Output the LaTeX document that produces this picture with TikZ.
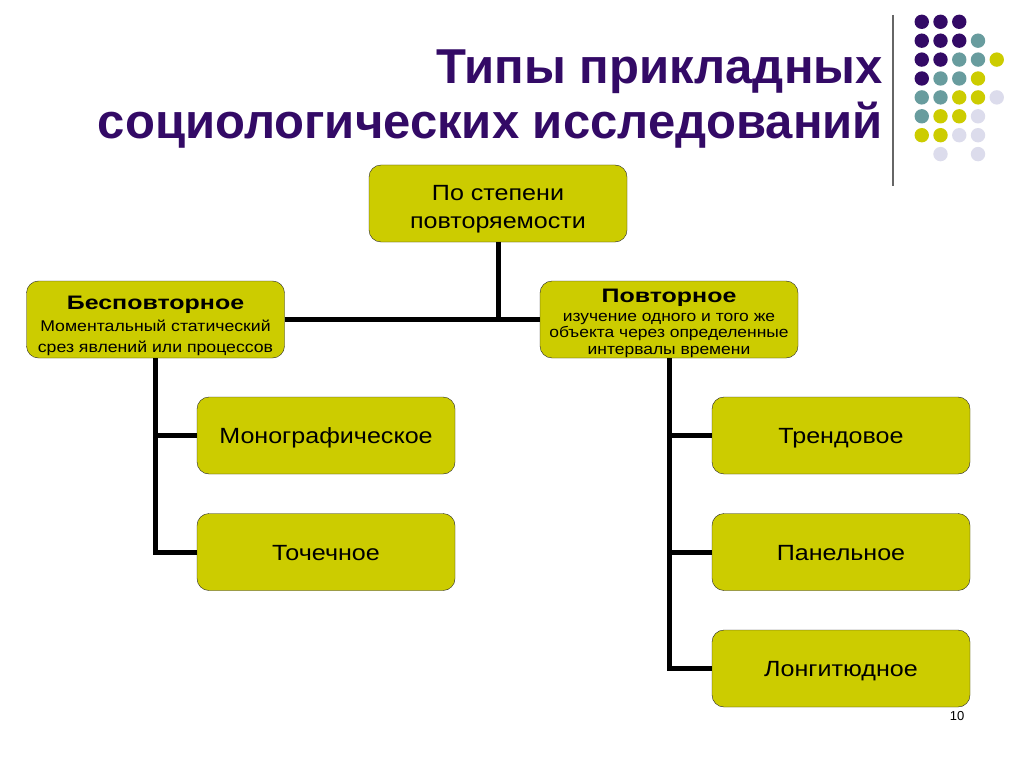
\documentclass[tikz,border=0pt]{standalone}
\usepackage{fontspec}
\setmainfont{Liberation Sans}
\newfontfamily\boxfont{Liberation Sans}[FakeStretch=1.14]
\newfontfamily\boxbold{Liberation Sans}[FakeStretch=1.28]
\definecolor{dpurple}{HTML}{330A66}
\definecolor{dteal}{HTML}{689C9E}
\definecolor{dolive}{HTML}{CCCC00}
\definecolor{dlav}{HTML}{DCDCEC}
\tikzset{
  typebox/.style={draw=black!85,fill=dolive,rounded corners=12pt,minimum width=258pt,minimum height=77pt,inner sep=2pt,align=center,font=\boxfont\fontsize{22}{28}\selectfont},
  oneline/.style={typebox,text height=16.5pt,text depth=0pt},
  link/.style={line width=5pt}
}
\newcommand{\headword}[1]{{\boxbold\bfseries\fontsize{19.5}{22}\selectfont #1}}
\begin{document}
\begin{tikzpicture}[x=1pt,y=-1pt]
  \useasboundingbox (0,0) rectangle (1024,767);
  \fill[white] (0,0) rectangle (1024,767);
  % title
  \node[anchor=north east,align=right,text=dpurple,font=\bfseries\fontsize{49}{55}\selectfont,inner sep=0pt] (title) at (883,50) {Типы прикладных\\социологических исследований};
  \draw[black!60,line width=1.5pt] (893,15) -- (893,186);
  % dots
  \foreach \c/\r/\col in {1/1/dpurple,2/1/dpurple,3/1/dpurple,
      1/2/dpurple,2/2/dpurple,3/2/dpurple,4/2/dteal,
      1/3/dpurple,2/3/dpurple,3/3/dteal,4/3/dteal,5/3/dolive,
      1/4/dpurple,2/4/dteal,3/4/dteal,4/4/dolive,
      1/5/dteal,2/5/dteal,3/5/dolive,4/5/dolive,5/5/dlav,
      1/6/dteal,2/6/dolive,3/6/dolive,4/6/dlav,
      1/7/dolive,2/7/dolive,3/7/dlav,4/7/dlav,
      2/8/dlav,4/8/dlav}
    \fill[\col] (903+18.75*\c,2.9+18.9*\r) circle (7.2);
  % boxes
  \node[typebox] (root) at (498,203.5) {\rule{0pt}{26pt}По степени\\повторяемости};
  \node[typebox,font=\boxfont\fontsize{15.5}{20.3}\selectfont] (single) at (155.5,319.5) {\rule{0pt}{26pt}\headword{Бесповторное}\\[2pt]Моментальный статический\\срез явлений или процессов};
  \node[typebox,inner sep=0pt,font=\boxfont\fontsize{15.3}{16.7}\selectfont] (repeat) at (669,319.5) {\rule{0pt}{21pt}\headword{Повторное}\\[2pt]изучение одного и того же\\объекта через определенные\\интервалы времени};
  \node[oneline] (mono) at (326,435.5) {Монографическое};
  \node[oneline] (point) at (326,552) {Точечное};
  \node[oneline] (trend) at (841,435.5) {Трендовое};
  \node[oneline] (panel) at (841,552) {Панельное};
  \node[oneline] (longit) at (841,668.5) {Лонгитюдное};
  % connectors
  \draw[link] (root.south) -- (root.south |- single.east);
  \draw[link] (single.east) -- (repeat.west);
  \draw[link] (single.south) |- (point.west);
  \draw[link] (single.south |- mono.west) -- (mono.west);
  \draw[link] (repeat.south) |- (longit.west);
  \draw[link] (repeat.south |- trend.west) -- (trend.west);
  \draw[link] (repeat.south |- panel.west) -- (panel.west);
  \node[font=\fontsize{13}{13}\selectfont] (pagenum) at (957,716) {10};
\end{tikzpicture}
\end{document}
